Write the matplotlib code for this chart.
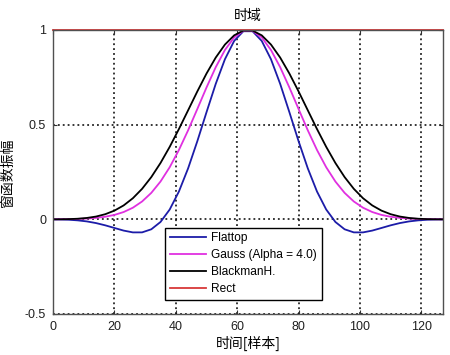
import matplotlib
matplotlib.use("Agg")
import matplotlib.pyplot as plt

plt.rcParams['font.family'] = ['Liberation Sans', 'Noto Sans CJK SC', 'DejaVu Sans']

# sample positions (samples 0..127)
samples = [0, 2, 5, 8, 11, 14, 17, 20, 23, 26, 29, 32, 35, 38, 41, 44, 47, 50, 53, 56, 59, 62,
           65, 68, 71, 74, 77, 80, 83, 86, 89, 92, 95, 98, 101, 104, 107, 110, 113, 116, 119, 122, 125, 127]

flattop = [-0.0004, -0.0007, -0.0021, -0.0054, -0.0110, -0.0198, -0.0317, -0.0457, -0.0595, -0.0690, -0.0689,
           -0.0526, -0.0140, 0.0519, 0.1469, 0.2693, 0.4126, 0.5660, 0.7155, 0.8457, 0.9421, 0.9934,
           0.9934, 0.9421, 0.8457, 0.7155, 0.5660, 0.4126, 0.2693, 0.1469, 0.0519, -0.0140, -0.0526,
           -0.0689, -0.0690, -0.0595, -0.0457, -0.0317, -0.0198, -0.0110, -0.0054, -0.0021, -0.0007, -0.0004]

gauss = [0.0003, 0.0006, 0.0011, 0.0022, 0.0042, 0.0077, 0.0137, 0.0234, 0.0386, 0.0614, 0.0943,
         0.1397, 0.1996, 0.2752, 0.3663, 0.4703, 0.5827, 0.6966, 0.8035, 0.8944, 0.9606, 0.9956,
         0.9956, 0.9606, 0.8944, 0.8035, 0.6966, 0.5827, 0.4703, 0.3663, 0.2752, 0.1996, 0.1397,
         0.0943, 0.0614, 0.0386, 0.0234, 0.0137, 0.0077, 0.0042, 0.0022, 0.0011, 0.0006, 0.0003]

blackmanh = [0.0001, 0.0002, 0.0011, 0.0031, 0.0073, 0.0147, 0.0271, 0.0461, 0.0736, 0.1115, 0.1611,
             0.2231, 0.2975, 0.3829, 0.4769, 0.5760, 0.6755, 0.7701, 0.8544, 0.9231, 0.9717, 0.9968,
             0.9968, 0.9717, 0.9231, 0.8544, 0.7701, 0.6755, 0.5760, 0.4769, 0.3829, 0.2975, 0.2231,
             0.1611, 0.1115, 0.0736, 0.0461, 0.0271, 0.0147, 0.0073, 0.0031, 0.0011, 0.0002, 0.0001]

rect_x = [0, 127]
rect = [1, 1]

labels = ["Flattop", "Gauss (Alpha = 4.0)", "BlackmanH.", "Rect"]
xticks = [0, 20, 40, 60, 80, 100, 120]
yticks = [-0.5, 0, 0.5, 1]
yticklabels = ["-0.5", "0", "0.5", "1"]

fig = plt.figure(figsize=(4.5, 3.55), dpi=100)
ax = fig.add_axes([0.118, 0.1155, 0.866, 0.8])

ax.plot(samples, flattop, color='#1c1ca8', lw=1.3, label=labels[0])
ax.plot(samples, gauss, color='#e030e0', lw=1.3, label=labels[1])
ax.plot(samples, blackmanh, color='black', lw=1.3, label=labels[2])
ax.plot(rect_x, rect, color='#d83838', lw=1.3, label=labels[3], clip_on=False)

ax.set_xlim(0, 127)
ax.set_ylim(-0.5, 1)
ax.set_xticks(xticks)
ax.set_yticks(yticks)
ax.set_yticklabels(yticklabels)
ax.grid(True, color='black', linestyle=(0, (1.2, 2.0)), linewidth=1.1)
ax.tick_params(direction='in', top=True, right=True, labelsize=9, length=3, pad=5,
               colors='#303030', labelcolor='#202020')
for s in ax.spines.values():
    s.set_color('#505050')
    s.set_linewidth(1.0)

cjk = ['Noto Sans CJK SC', 'DejaVu Sans']
ax.set_title("时域", fontsize=10, pad=7, family=cjk)
ax.set_xlabel("时间[样本]", fontsize=10, labelpad=2, family=cjk)
ax.set_ylabel("窗函数振幅", fontsize=10, labelpad=7, family=cjk)

leg = ax.legend(loc='lower left', bbox_to_anchor=(0.272, 0.03), fontsize=8.6,
                handlelength=3.0, handletextpad=0.45, borderpad=0.4, labelspacing=0.4,
                fancybox=False, framealpha=1, edgecolor='black')
leg.get_frame().set_linewidth(1.0)

fig.savefig("out.png", dpi=100)
